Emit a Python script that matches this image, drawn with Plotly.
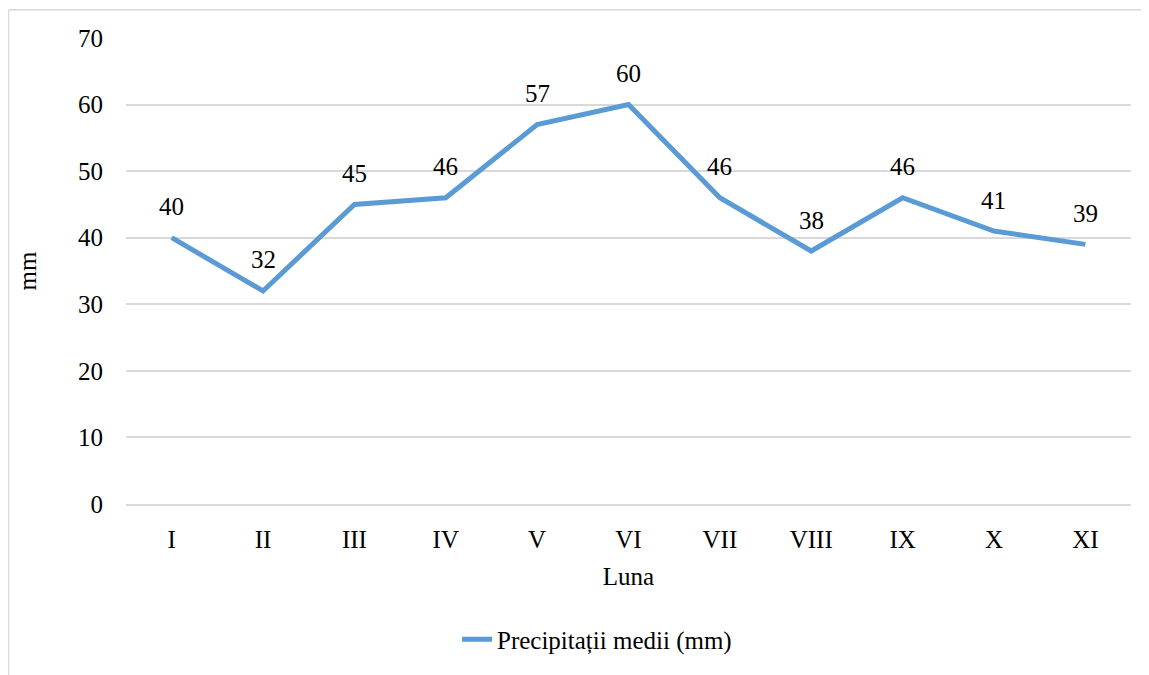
import plotly.graph_objects as go

months = ["I", "II", "III", "IV", "V", "VI", "VII", "VIII", "IX", "X", "XI"]
precip = [40, 32, 45, 46, 57, 60, 46, 38, 46, 41, 39]
series_name = "Precipitații medii (mm)"
x_title = "Luna"
y_title = "mm"
y_ticks = [0, 10, 20, 30, 40, 50, 60, 70]

FONT = "Liberation Serif"
FS = 25
# page body has an 8px margin, so figure coordinates are page coordinates - 8
W, H = 1141, 667
L, R, T, B = 118, 18, 30, 166

fig = go.Figure()
fig.add_trace(go.Scatter(
    x=months, y=precip, mode="lines", name=series_name,
    line=dict(color="#5B9BD5", width=5),
))

for m, v in zip(months, precip):
    fig.add_annotation(x=m, y=v, text=str(v), showarrow=False, yshift=31,
                       font=dict(family=FONT, size=FS, color="#000000"))

pw = W - L - R
ph = H - T - B
def px(x):
    return (x - L) / pw
def py(y):
    return (H - B - y) / ph

# chart border (top and left visible)
fig.add_shape(type="line", xref="paper", yref="paper", x0=px(0.5), x1=px(1160), y0=py(1.5), y1=py(1.5),
              line=dict(color="#D9D9D9", width=1.5))
fig.add_shape(type="line", xref="paper", yref="paper", x0=px(0.5), x1=px(0.5), y0=py(1.5), y1=py(690),
              line=dict(color="#D9D9D9", width=1.5))

fig.update_layout(
    width=W, height=H,
    margin=dict(l=L, r=R, t=T, b=B, pad=0),
    paper_bgcolor="white", plot_bgcolor="white",
    font=dict(family=FONT, size=FS, color="#000000"),
    showlegend=True,
    legend=dict(orientation="h", x=px(589), xanchor="center", y=py(638), yanchor="middle",
                font=dict(family=FONT, size=FS), itemwidth=30, bgcolor="rgba(0,0,0,0)"),
    xaxis=dict(
        type="category", range=[-0.5, len(months) - 0.5],
        showgrid=False, showline=True, linecolor="#D9D9D9", linewidth=2,
        ticks="", ticklabelstandoff=12,
        title=dict(text=x_title, font=dict(family=FONT, size=FS), standoff=15),
    ),
    yaxis=dict(
        range=[0, 70], tickvals=y_ticks, showgrid=True, gridcolor="#D9D9D9", gridwidth=2,
        zeroline=False, showline=False, ticks="", ticklabelstandoff=22,
        title=dict(text=y_title, font=dict(family=FONT, size=FS), standoff=34),
    ),
)

fig.write_html("out.html")
